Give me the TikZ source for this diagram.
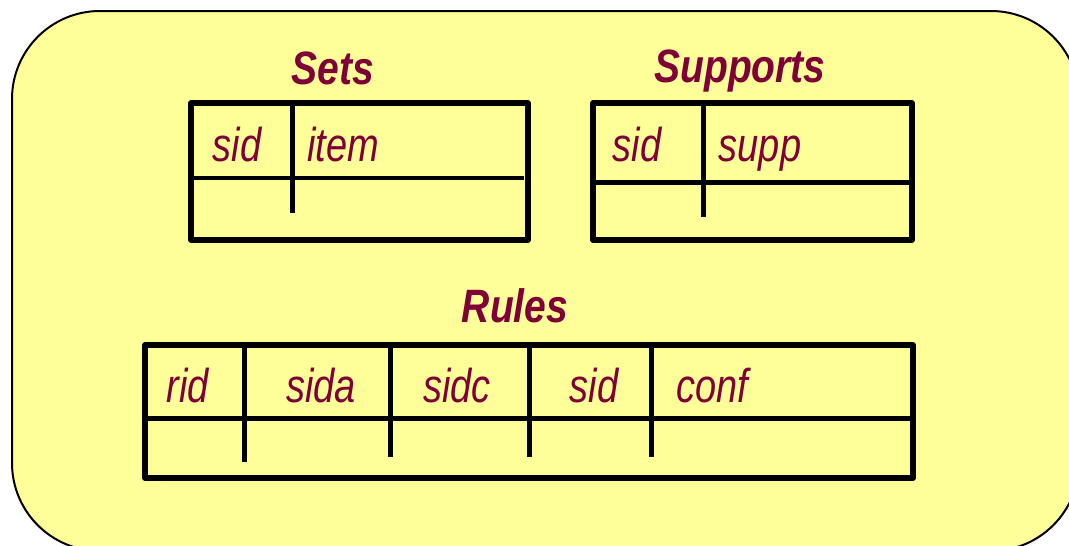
\documentclass[tikz,border=0pt]{standalone}
\usepackage{fontspec}
\setmainfont{Liberation Sans}
\usepackage{graphicx}
\definecolor{bgfill}{HTML}{FFFF99}
\definecolor{txtcol}{HTML}{7F0037}
\newcommand\colt[1]{\scalebox{1}[1.25]{#1}}
\newcommand\titt[1]{\scalebox{1}[1.2]{#1}}
\tikzset{
  panel/.style={draw=black, line width=2pt, fill=bgfill, rounded corners=88pt},
  colname/.style={text=txtcol, font=\itshape\fontsize{38}{38}\selectfont, anchor=base, inner sep=0pt},
  tabletitle/.style={text=txtcol, font=\bfseries\itshape\fontsize{39}{39}\selectfont, anchor=base, inner sep=0pt},
  tablebox/.style={draw=black, line width=5.5pt, line join=round},
  rowline/.style={draw=black, line width=5pt},
  thinrow/.style={draw=black, line width=3.2pt},
  divider/.style={draw=black, line width=5pt},
}
\begin{document}
\begin{tikzpicture}[x=1pt, y=-1pt]
\useasboundingbox (0,0) rectangle (1069,546);
\path[panel] (12,11) rectangle (1079,551);

% Sets
\node[tabletitle] (setsT) at (333,84) {\titt{Sets}};
\draw[tablebox] (191,103) rectangle (528,240);
\draw[thinrow] (188,178) -- (524,178);
\draw[divider] (292,103) -- (292,213);
\node[colname] (setsSid) at (237,161) {\colt{sid}};
\node[colname] (setsItem) at (343,161) {\colt{item}};

% Supports
\node[tabletitle] (suppT) at (740,82) {\titt{Supports}};
\draw[tablebox] (593,103) rectangle (912,240);
\draw[rowline] (593,182) -- (912,182);
\draw[divider] (703,103) -- (703,217);
\node[colname] (suppSid) at (637,161) {\colt{sid}};
\node[colname] (suppSupp) at (760,161) {\colt{supp}};

% Rules
\node[tabletitle] (rulesT) at (515,322) {\titt{Rules}};
\draw[tablebox] (145,345) rectangle (913,478);
\draw[rowline] (145,418) -- (913,418);
\draw[divider] (244,345) -- (244,462);
\draw[divider] (390,345) -- (390,457);
\draw[divider] (529,345) -- (529,457);
\draw[divider] (651,345) -- (651,457);
\node[colname] (rRid) at (188,402) {\colt{rid}};
\node[colname] (rSida) at (321,402) {\colt{sida}};
\node[colname] (rSidc) at (457,402) {\colt{sidc}};
\node[colname] (rSid) at (594,402) {\colt{sid}};
\node[colname] (rConf) at (712,402) {\colt{conf}};
\end{tikzpicture}
\end{document}
